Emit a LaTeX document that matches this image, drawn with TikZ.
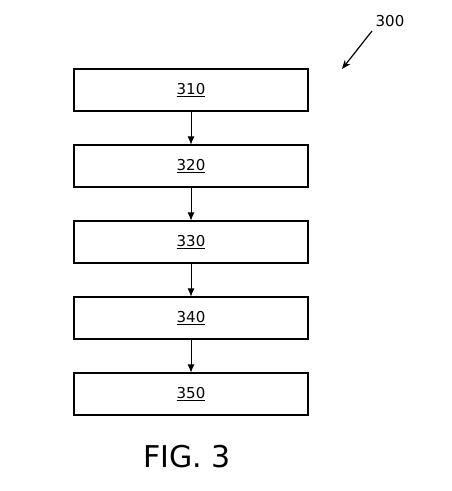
\documentclass[tikz,border=0pt]{standalone}
\usepackage{fontspec}
\setmainfont{DejaVu Sans}
\usetikzlibrary{arrows.meta}
\begin{document}
\begin{tikzpicture}[x=1pt,y=-1pt,
  stepbox/.style={draw=black,line width=1.1pt,minimum width=234pt,minimum height=42pt,inner sep=0pt,font=\fontsize{15}{17}\selectfont},
  flow/.style={line width=0.8pt,-{Latex[length=8pt,width=7pt]}}]
\useasboundingbox (0,0) rectangle (452,491);
\node[stepbox] (b1) at (191,90) {\underline{310}};
\node[stepbox] (b2) at (191,166) {\underline{320}};
\node[stepbox] (b3) at (191,242) {\underline{330}};
\node[stepbox] (b4) at (191,318) {\underline{340}};
\node[stepbox] (b5) at (191,394) {\underline{350}};
\draw[flow] (b1) -- (b2);
\draw[flow] (b2) -- (b3);
\draw[flow] (b3) -- (b4);
\draw[flow] (b4) -- (b5);
\node[font=\fontsize{15}{17}\selectfont] (lbl) at (390,21) {300};
\coordinate (ls) at (372,31);
\coordinate (le) at (342,69);
\draw[line width=1.2pt,-{Stealth[length=9pt,width=7pt]}] (ls) -- (le);
\node[font=\fontsize{30}{34}\selectfont] (fig) at (187,457) {FIG. 3};
\end{tikzpicture}
\end{document}
